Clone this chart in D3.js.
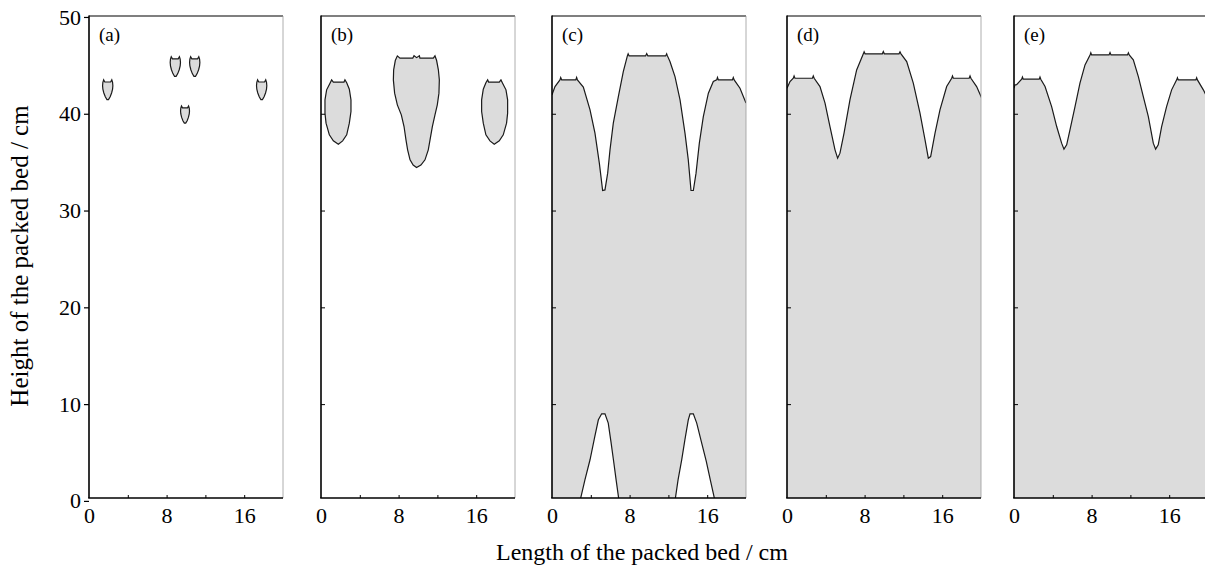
<!DOCTYPE html>
<html>
<head>
<meta charset="utf-8">
<script src="https://cdn.jsdelivr.net/npm/d3@7"></script>
<style>
  body { margin: 0; background: #fff; }
  text { font-family: "Liberation Serif", "Times New Roman", serif; fill: #000; }
</style>
</head>
<body>
<div id="chart"></div>
<script>
// ---- data (cm) ----
let panelLabels = ["(a)", "(b)", "(c)", "(d)", "(e)"];
let xTickLabels = [0, 8, 16];
let xTickMarks = [4, 8, 12, 16];
let yTickLabels = [0, 10, 20, 30, 40, 50];
let yTickMarks = [10, 20, 30, 40];

// (a) small droplets: one outline shape, placed at several spots
let dropShape = [[-0.42, 0], [-0.5, -0.25], [-0.53, -0.6], [-0.5, -0.95], [-0.4, -1.35], [-0.25, -1.75],
  [-0.08, -2.03], [0.08, -2.03], [0.25, -1.75], [0.4, -1.35], [0.5, -0.95], [0.53, -0.6], [0.5, -0.25],
  [0.42, 0], [0.3, -0.22], [-0.3, -0.22]];
let dropsA = [
  { x: 1.93, top: 43.5, s: 1 },
  { x: 8.9, top: 45.9, s: 1 },
  { x: 10.9, top: 45.9, s: 1 },
  { x: 9.9, top: 40.8, s: 0.87 },
  { x: 17.8, top: 43.5, s: 1 }
];

// (b) three wet zones
let blobLeftB = [[1.10, 43.50], [0.93, 43.16], [0.58, 42.47], [0.41, 41.44], [0.41, 40.06], [0.52, 39.03],
  [0.86, 37.82], [1.27, 37.20], [1.79, 36.86], [2.23, 37.20], [2.65, 37.82], [2.92, 39.03], [3.09, 40.23],
  [3.09, 41.44], [2.92, 42.54], [2.65, 43.2], [2.47, 43.50], [2.37, 43.27], [1.27, 43.27]];
let blobMidB = [[7.87, 45.98], [7.66, 45.5], [7.49, 44.54], [7.46, 43.5], [7.59, 42.13], [7.87, 40.92],
  [8.28, 39.89], [8.56, 38.68], [8.76, 37.30], [8.93, 36.27], [9.18, 35.24], [9.5, 34.7], [9.85, 34.45],
  [10.3, 34.7], [10.72, 35.24], [11.06, 36.27], [11.24, 37.30], [11.48, 38.68], [11.75, 39.89], [11.99, 40.92],
  [12.16, 42.13], [12.20, 43.5], [12.10, 44.54], [11.92, 45.5], [11.75, 45.98], [11.58, 45.74], [10.2, 45.74],
  [10.14, 46.0], [9.86, 45.8], [9.59, 46.0], [9.46, 45.74], [8.14, 45.74]];
let blobRightB = [[18.55, 43.50], [18.72, 43.16], [19.07, 42.47], [19.24, 41.44], [19.24, 40.06], [19.13, 39.03],
  [18.79, 37.82], [18.38, 37.20], [17.86, 36.86], [17.42, 37.20], [17.00, 37.82], [16.73, 39.03], [16.56, 40.23],
  [16.56, 41.44], [16.73, 42.54], [17.00, 43.2], [17.18, 43.50], [17.28, 43.27], [18.38, 43.27]];

// (c)-(e) upper front of the wetted region
let frontC = [[0, 41.95], [0.31, 42.81], [0.82, 43.5], [0.9, 43.75], [1.0, 43.5], [2.45, 43.5], [2.54, 43.75],
  [2.62, 43.5], [3.23, 42.75], [3.92, 40.40], [4.43, 38.0], [4.88, 34.9], [5.22, 32.07], [5.46, 32.13],
  [5.74, 33.86], [5.98, 36.27], [6.32, 39.03], [6.84, 41.78], [7.35, 44.36], [7.77, 45.98], [7.85, 46.2],
  [7.95, 45.98], [9.65, 45.98], [9.76, 46.22], [9.88, 45.98], [11.72, 45.98], [11.82, 46.2], [11.9, 45.98],
  [12.16, 45.39], [12.68, 43.84], [13.2, 41.44], [13.71, 38.0], [14.05, 35.24], [14.33, 32.07], [14.57, 32.07],
  [14.85, 33.86], [15.19, 36.96], [15.6, 39.71], [16.12, 42.12], [16.63, 43.33], [16.98, 43.5], [17.06, 43.75],
  [17.15, 43.5], [18.6, 43.5], [18.69, 43.75], [18.78, 43.5], [19.38, 42.64], [20, 41.1]];
// (c) lower dry cones
let floorC = [[0, 0], [2.89, 0], [3.4, 2.2], [3.92, 4.25], [4.4, 6.6], [4.78, 8.38], [5.12, 9.0], [5.46, 9.0],
  [5.80, 8.04], [6.08, 6.1], [6.34, 4.2], [6.62, 2.1], [6.91, 0], [12.68, 0], [13.0, 2.2], [13.37, 4.25],
  [13.7, 6.3], [14.05, 8.38], [14.23, 9.0], [14.57, 9.0], [14.92, 8.04], [15.4, 6.1], [15.9, 4.1],
  [16.36, 2.0], [16.8, 0], [20, 0]];
let frontD = [[0, 42.64], [0.31, 43.33], [0.65, 43.67], [0.73, 43.9], [0.82, 43.67], [2.62, 43.67], [2.71, 43.9],
  [2.8, 43.67], [3.40, 42.81], [3.92, 41.1], [4.43, 38.68], [4.95, 36.27], [5.22, 35.41], [5.46, 35.93],
  [5.88, 38.0], [6.49, 41.44], [7.18, 44.53], [7.87, 46.19], [7.95, 46.4], [8.05, 46.19], [9.83, 46.19],
  [9.93, 46.42], [10.03, 46.19], [11.55, 46.19], [11.65, 46.4], [11.75, 46.19], [12.34, 45.39], [13.02, 43.16],
  [13.71, 40.06], [14.23, 37.3], [14.57, 35.41], [14.81, 35.58], [15.26, 38.0], [15.77, 40.4], [16.46, 42.81],
  [16.98, 43.67], [17.06, 43.9], [17.15, 43.67], [18.78, 43.67], [18.87, 43.9], [18.96, 43.67], [19.55, 42.81],
  [20.07, 41.61]];
let frontE = [[0, 42.64], [0.1, 42.98], [0.27, 43.0], [0.79, 43.57], [0.87, 43.8], [0.95, 43.57], [2.6, 43.57],
  [2.68, 43.8], [2.76, 43.57], [3.2, 42.81], [3.88, 40.74], [4.4, 38.68], [4.91, 36.96], [5.15, 36.34],
  [5.43, 36.79], [5.77, 38.34], [6.29, 40.74], [6.8, 43.16], [7.32, 45.05], [7.84, 46.08], [7.92, 46.3],
  [8.0, 46.08], [9.8, 46.08], [9.9, 46.32], [10.0, 46.08], [11.7, 46.08], [11.79, 46.3], [11.88, 46.08],
  [12.3, 45.57], [12.82, 43.84], [13.33, 41.78], [13.85, 39.71], [14.36, 36.96], [14.6, 36.34], [14.87, 36.79],
  [15.22, 38.68], [15.73, 40.74], [16.25, 42.47], [16.77, 43.5], [16.85, 43.72], [16.93, 43.5], [18.75, 43.5],
  [18.83, 43.72], [18.91, 43.5], [19.52, 42.47], [20.2, 41.1]];

// ---- layout ----
let svgWidth = 1205;
let svgHeight = 575;
let panelLefts = [89, 321, 552, 787, 1014];
let panelWidth = 194;
let plotTop = 16;
let plotBottom = 498;
let wetFill = "#dcdcdc";
let edge = "#1a1a1a";
let serif = "'Liberation Serif', 'Times New Roman', serif";

let svg = d3.select("#chart")
  .append("svg")
  .attr("width", svgWidth)
  .attr("height", svgHeight);

let yScale = d3.scaleLinear()
  .domain([0.3, 50.1])
  .range([plotBottom, plotTop]);

panelLabels.forEach(function(label, i) {
  let left = panelLefts[i];
  let xScale = d3.scaleLinear().domain([0, 20]).range([left, left + panelWidth]);

  svg.append("clipPath")
    .attr("id", "clip" + i)
    .append("rect")
    .attr("x", left).attr("y", plotTop)
    .attr("width", panelWidth).attr("height", plotBottom - plotTop);

  let g = svg.append("g").attr("clip-path", `url(#clip${i})`);

  let line = d3.line().x(d => xScale(d[0])).y(d => yScale(d[1]));

  let drawBlob = function(pts) {
    g.append("path")
      .attr("d", line(pts) + "Z")
      .attr("fill", wetFill)
      .attr("stroke", edge)
      .attr("stroke-width", 1.2);
  };

  if (i === 0) {
    dropsA.forEach(function(dp) {
      drawBlob(dropShape.map(p => [dp.x + p[0] * dp.s, dp.top + p[1] * dp.s]));
    });
  } else if (i === 1) {
    [blobLeftB, blobMidB, blobRightB].forEach(drawBlob);
  } else {
    let front = [frontC, frontD, frontE][i - 2];
    let floor = i === 2 ? floorC : [[20, 0], [0, 0]];
    let poly = i === 2 ? front.concat(floor.slice().reverse()) : front.concat(floor);
    g.append("path")
      .attr("d", line(poly) + "Z")
      .attr("fill", wetFill)
      .attr("stroke", "none");
    g.append("path")
      .attr("d", line(front))
      .attr("fill", "none")
      .attr("stroke", edge)
      .attr("stroke-width", 1.2);
    if (i === 2) {
      g.append("path")
        .attr("d", line(floor))
        .attr("fill", "none")
        .attr("stroke", edge)
        .attr("stroke-width", 1.2);
    }
  }

  // frame
  let right = left + panelWidth;
  svg.append("line").attr("x1", left).attr("x2", right).attr("y1", plotTop).attr("y2", plotTop)
    .attr("stroke", "#000").attr("stroke-width", 1.2);
  svg.append("line").attr("x1", right).attr("x2", right).attr("y1", plotTop).attr("y2", plotBottom)
    .attr("stroke", "#999").attr("stroke-width", 0.8);
  svg.append("line").attr("x1", left).attr("x2", left).attr("y1", plotTop - 0.6).attr("y2", plotBottom)
    .attr("stroke", "#000").attr("stroke-width", 1.6);
  svg.append("line").attr("x1", left - 0.8).attr("x2", right).attr("y1", plotBottom).attr("y2", plotBottom)
    .attr("stroke", "#000").attr("stroke-width", 1.6);

  // x ticks (inward) and labels
  let xMarks = svg.append("g")
    .attr("transform", `translate(0, ${plotBottom})`)
    .call(d3.axisBottom(xScale).tickValues(xTickMarks).tickSize(-3).tickFormat(""));
  xMarks.select(".domain").remove();

  let xLabels = svg.append("g")
    .attr("transform", `translate(0, ${plotBottom})`)
    .call(d3.axisBottom(xScale).tickValues(xTickLabels).tickSize(0).tickPadding(9));
  xLabels.select(".domain").remove();
  xLabels.selectAll("text").style("font-size", "22px").style("font-family", serif);

  // y ticks
  if (i === 0) {
    let yAxis = svg.append("g")
      .attr("transform", `translate(${left}, 0)`)
      .call(d3.axisLeft(yScale).tickValues(yTickLabels).tickSize(5).tickPadding(3));
    yAxis.select(".domain").remove();
    yAxis.selectAll("text").style("font-size", "22px").style("font-family", serif);
    yAxis.selectAll("line").attr("stroke-width", 1.2);
  } else {
    let yMarks = svg.append("g")
      .attr("transform", `translate(${left}, 0)`)
      .call(d3.axisLeft(yScale).tickValues(yTickMarks).tickSize(-4).tickFormat(""));
    yMarks.select(".domain").remove();
  }

  svg.append("text")
    .attr("x", left + 10)
    .attr("y", 41)
    .style("font-size", "19px")
    .text(label);
});

svg.append("text")
  .attr("transform", "translate(28, 256) rotate(-90)")
  .attr("text-anchor", "middle")
  .style("font-size", "25px")
  .text("Height of the packed bed / cm");

svg.append("text")
  .attr("x", 642)
  .attr("y", 560)
  .attr("text-anchor", "middle")
  .style("font-size", "24px")
  .text("Length of the packed bed / cm");
</script>
</body>
</html>
